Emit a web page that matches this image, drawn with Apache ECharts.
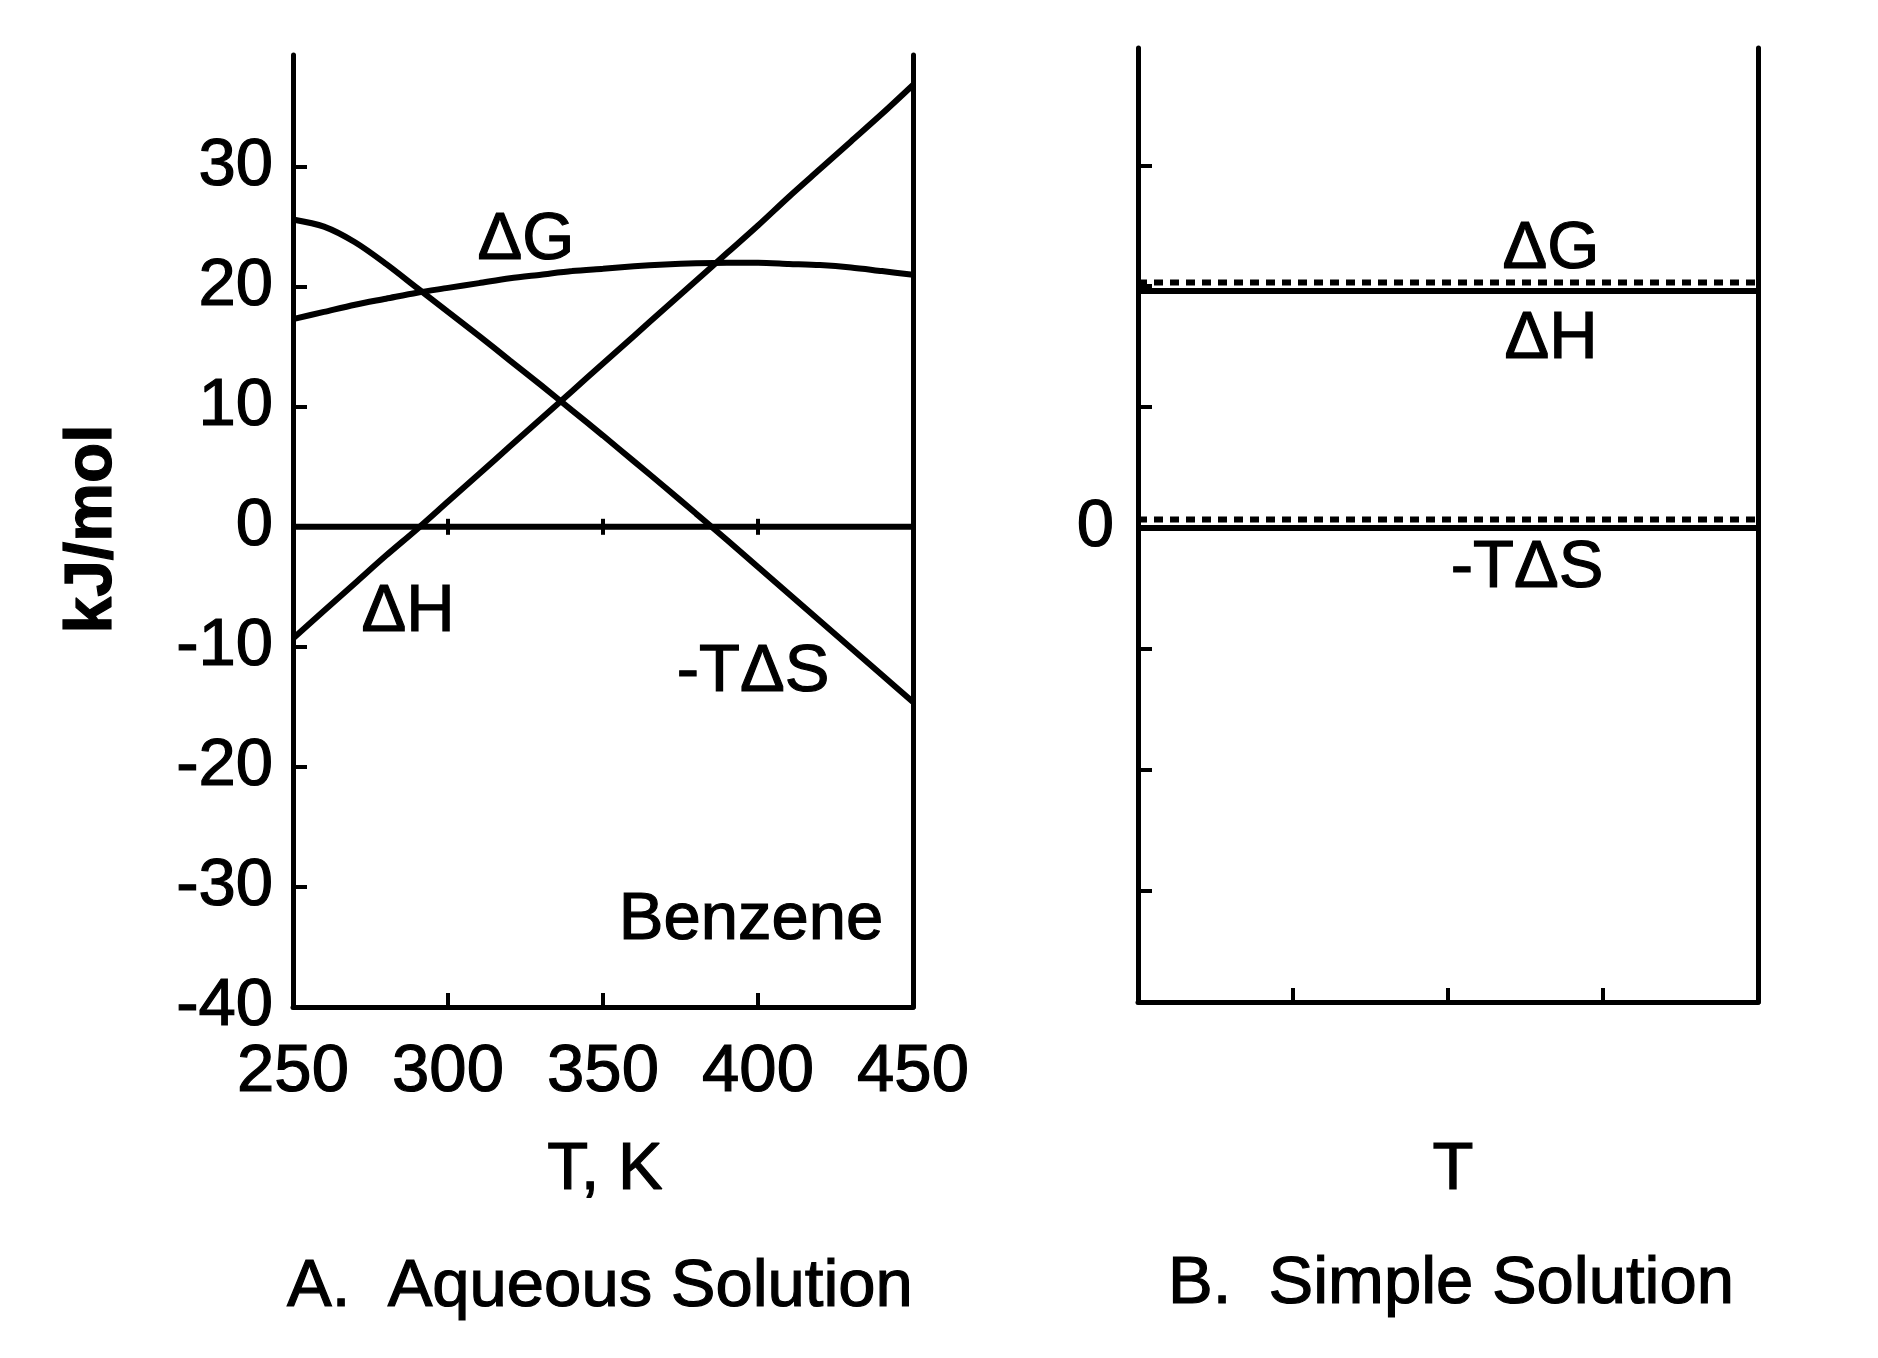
<!DOCTYPE html>
<html>
<head>
<meta charset="utf-8">
<script src="https://cdn.jsdelivr.net/npm/echarts@6/dist/echarts.min.js"></script>
<style>
html,body{margin:0;padding:0;background:#fff;}
#c{width:1878px;height:1358px;}
</style>
</head>
<body>
<div id="c"></div>
<script>
// ---------- Panel A: Aqueous solution (benzene) ----------
const tempsA = [250,260,270,280,290,300,310,320,330,340,350,360,370,380,390,400,410,420,430,440,450];
const dH_A     = [-9.3,-7.0,-4.7,-2.4,-0.2,2.1,4.4,6.7,9.0,11.3,13.6,15.9,18.2,20.5,22.8,25.1,27.5,29.8,32.1,34.4,36.8];
const negTdS_A = [25.6,25.0,23.7,21.9,19.9,17.9,15.9,13.85,11.8,9.7,7.6,5.45,3.3,1.1,-1.1,-3.35,-5.6,-7.85,-10.1,-12.35,-14.6];
const dG_A     = [17.3,17.9,18.5,19.0,19.5,19.9,20.3,20.7,21.0,21.3,21.5,21.7,21.85,21.95,22.0,22.0,21.9,21.8,21.6,21.3,21.0];
const zeroT_A  = [250,300,350,400,450];
const zeroV_A  = [0,0,0,0,0];

// ---------- Panel B: Simple solution ----------
const tempsB    = [250,450];
const dG_B      = [20.3,20.3];
const dH_B      = [19.6,19.6];
const negTdS_B  = [0.7,0.7];
const zero_B    = [0,0];

// ---------- ticks / labels ----------
const xTicks   = [250,300,350,400,450];
const yTicksA  = [-40,-30,-20,-10,0,10,20,30];
const yTicksB  = [-30,-20,-10,0,10,20,30];
const yLabelsB = [0];

const FONT = '"Liberation Sans", Arial, Helvetica, sans-serif';
const BLACK = '#000';
const FS = 67;
const TB = 1.2; // slight text thickening like the scanned original

const chart = echarts.init(document.getElementById('c'), null, {renderer:'canvas', width:1878, height:1358});

const axLine = {show:true, onZero:false, lineStyle:{color:BLACK, width:5}};
const tick = {show:true, inside:true, length:14, lineStyle:{color:BLACK, width:4}};
const lab = (extra) => Object.assign({show:true, fontSize:FS, color:BLACK, fontFamily:FONT,
  textBorderColor:BLACK, textBorderWidth:TB}, extra);

function pairs(xs, ys){ return xs.map((x,i)=>[x, ys[i]]); }

function solid(name, xs, ys, gi){
  return {name, type:'line', xAxisIndex:gi, yAxisIndex:gi*2, data:pairs(xs,ys),
    symbol:'none', smooth:0.3, lineStyle:{color:BLACK, width:6}, z:3, silent:true};
}
function dotted(name, xs, ys, gi){
  return {name, type:'line', xAxisIndex:gi, yAxisIndex:gi*2, data:pairs(xs,ys),
    symbol:'none', lineStyle:{color:BLACK, width:6, type:[9,7]}, z:3, silent:true};
}

const zeroA = {
  name:'zero', type:'line', xAxisIndex:0, yAxisIndex:0,
  data: zeroT_A.map((t,i)=>({value:[t, zeroV_A[i]], symbolSize:(t===250||t===450)?0:[4,16]})),
  symbol:'rect', showSymbol:true, itemStyle:{color:BLACK},
  lineStyle:{color:BLACK, width:6}, z:3, silent:true
};

function txt(x, y, text, opts){
  opts = opts || {};
  return {type:'text', x, y, rotation:opts.rotation||0,
    style:{text, font:(opts.weight||'normal')+' '+(opts.size||FS)+'px '+FONT, fill:BLACK,
      stroke:BLACK, lineWidth:TB, align:'center', verticalAlign:'middle'}};
}

const option = {
  backgroundColor:'#fff',
  animation:false,
  textStyle:{fontFamily:FONT, color:BLACK},
  grid:[
    {left:293, top:55, width:620, bottom:351, outerBoundsMode:'none'},
    {left:1138, top:48, width:620, bottom:356, outerBoundsMode:'none'}
  ],
  xAxis:[
    {gridIndex:0, type:'value', min:250, max:450, interval:50,
      axisLine:axLine, axisTick:tick,
      axisLabel:lab({margin:32, customValues:xTicks}),
      splitLine:{show:false}},
    {gridIndex:1, type:'value', min:250, max:450, interval:50,
      axisLine:axLine, axisTick:tick,
      axisLabel:{show:false},
      splitLine:{show:false}}
  ],
  yAxis:[
    {gridIndex:0, type:'value', min:-40, max:39.3, position:'left',
      axisLine:axLine,
      axisTick:Object.assign({}, tick, {customValues:yTicksA}),
      axisLabel:lab({margin:20, customValues:yTicksA}),
      splitLine:{show:false}},
    {gridIndex:0, type:'value', min:-40, max:39.6, position:'right',
      axisLine:axLine, axisTick:{show:false}, axisLabel:{show:false}, splitLine:{show:false}},
    {gridIndex:1, type:'value', min:-39.2, max:39.7, position:'left',
      axisLine:axLine,
      axisTick:Object.assign({}, tick, {customValues:yTicksB}),
      axisLabel:lab({margin:24, customValues:yLabelsB}),
      splitLine:{show:false}},
    {gridIndex:1, type:'value', min:-39.2, max:39.7, position:'right',
      axisLine:axLine, axisTick:{show:false}, axisLabel:{show:false}, splitLine:{show:false}}
  ],
  series:[
    zeroA,
    solid('ΔH', tempsA, dH_A, 0),
    solid('-TΔS', tempsA, negTdS_A, 0),
    solid('ΔG', tempsA, dG_A, 0),
    solid('zero', tempsB, zero_B, 1),
    dotted('-TΔS', tempsB, negTdS_B, 1),
    solid('ΔH', tempsB, dH_B, 1),
    dotted('ΔG', tempsB, dG_B, 1)
  ],
  graphic:[
    txt(93, 529, 'kJ/mol', {rotation:Math.PI/2, weight:'bold', size:66}),
    txt(605, 1171, 'T, K'),
    txt(1453, 1171, 'T'),
    txt(600, 1288, 'A.  Aqueous Solution'),
    txt(1451, 1285, 'B.  Simple Solution'),
    txt(526, 241, 'ΔG'),
    txt(408, 613, 'ΔH'),
    txt(753, 673, '-TΔS'),
    txt(751, 921, 'Benzene'),
    txt(1551, 250, 'ΔG'),
    txt(1551, 340, 'ΔH'),
    txt(1527, 569, '-TΔS')
  ]
};
chart.setOption(option);
</script>
</body>
</html>
